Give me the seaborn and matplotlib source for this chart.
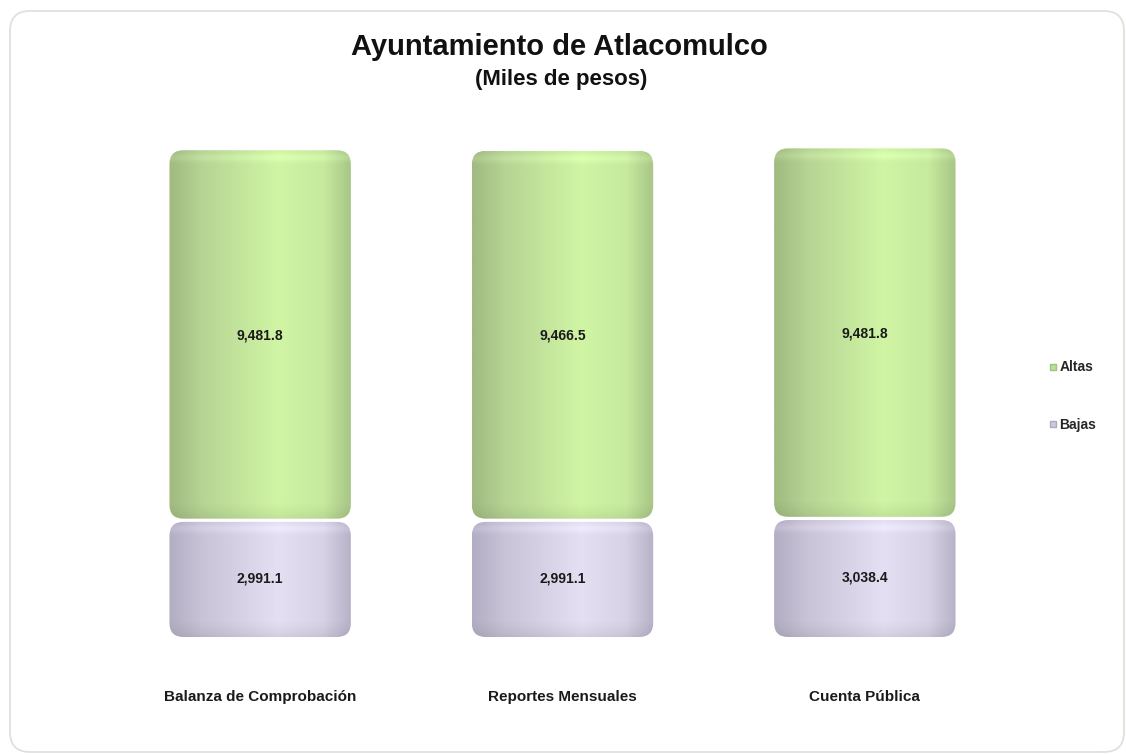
import numpy as np
import pandas as pd
import matplotlib
matplotlib.use("Agg")
import matplotlib.pyplot as plt
import seaborn as sns
from matplotlib.patches import FancyBboxPatch
from matplotlib.lines import Line2D
from matplotlib.transforms import IdentityTransform

# data
categorias = ["Balanza de Comprobación", "Reportes Mensuales", "Cuenta Pública"]
altas = [9481.8, 9466.5, 9481.8]
bajas = [2991.1, 2991.1, 3038.4]
series = ["Altas", "Bajas"]

sns.set_theme(style="white")
plt.rcParams["font.family"] = ["Liberation Sans", "DejaVu Sans"]

fig = plt.figure(figsize=(11.26, 7.55), dpi=100)
ax = fig.add_axes([0.0968, 0.1563, 0.8055, 0.672])
ax.set_facecolor("none")

df = pd.DataFrame({"categoria": categorias, "Altas": altas, "Bajas": bajas})
df["total"] = df["Altas"] + df["Bajas"]

# stacked bars: total first, bajas on top of it, then turned into cylinders
sns.barplot(data=df, x="categoria", y="total", color="#c9ec9c", width=0.6, ax=ax)
sns.barplot(data=df, x="categoria", y="Bajas", color="#d9d3e6", width=0.6, ax=ax)

ymax = 13000
ax.set_xlim(-0.5, 2.5)
ax.set_ylim(0, ymax)

rects = [(p.get_x(), p.get_width()) for p in ax.patches[:3]]
for p in list(ax.patches):
    p.remove()

# pixel scale for rounded corners
fig.canvas.draw()
bb = ax.get_window_extent()
px_x = bb.width / 3.0
px_y = bb.height / ymax

# colour profiles across the cylinder (left -> right)
green_stops = [(0.0, (160, 186, 128)), (0.18, (182, 212, 148)), (0.6, (208, 245, 164)),
               (0.85, (198, 234, 158)), (1.0, (168, 198, 134))]
lila_stops = [(0.0, (178, 173, 194)), (0.18, (200, 195, 215)), (0.6, (228, 223, 242)),
              (0.85, (216, 210, 230)), (1.0, (184, 178, 200))]


def shade(stops, w_px, h_px):
    nx = max(int(w_px), 2)
    ny = max(int(h_px), 2)
    t = np.linspace(0, 1, nx)
    pos = [s[0] for s in stops]
    row = np.stack([np.interp(t, pos, [s[1][k] for s in stops]) for k in range(3)], axis=-1) / 255.0
    img = np.repeat(row[None, :, :], ny, axis=0)
    d = np.arange(ny)  # distance from bottom (origin lower)
    dark = np.clip(d / 16.0, 0, 1) ** 0.7 * 0.08 + 0.92
    top = ny - 1 - d
    light = np.exp(-((top - 7) / 4.0) ** 2) * 0.045
    img = img * dark[:, None, None] + light[:, None, None]
    return np.clip(img, 0, 1)


gap = 1.6 / px_y
rad = 14
for i, (x0, w) in enumerate(rects):
    segs = [(0, bajas[i] - gap, lila_stops), (bajas[i] + gap, bajas[i] + altas[i], green_stops)]
    for y0, y1, stops in segs:
        patch = FancyBboxPatch((x0, y0), w, y1 - y0,
                               boxstyle=f"round,pad=0,rounding_size={rad / px_x}",
                               mutation_aspect=px_x / px_y,
                               facecolor="none", edgecolor="none", zorder=2)
        ax.add_patch(patch)
        img = shade(stops, w * px_x, (y1 - y0) * px_y)
        im = ax.imshow(img, extent=[x0, x0 + w, y0, y1], origin="lower",
                       aspect="auto", zorder=2, interpolation="bilinear")
        im.set_clip_path(patch)

for i in range(len(categorias)):
    ax.text(i, bajas[i] / 2, f"{bajas[i]:,.1f}", ha="center", va="center",
            fontsize=10, fontweight="bold", color="#1a1a1a", zorder=3)
    ax.text(i, bajas[i] + altas[i] / 2, f"{altas[i]:,.1f}", ha="center", va="center",
            fontsize=10, fontweight="bold", color="#1a1a1a", zorder=3)

ax.set_xlim(-0.5, 2.5)
ax.set_ylim(0, ymax)
ax.set_xlabel("")
ax.set_ylabel("")
ax.set_yticks([])
ax.tick_params(axis="x", length=0, pad=38)
for lbl in ax.get_xticklabels():
    lbl.set_fontsize(11)
    lbl.set_fontweight("bold")
    lbl.set_color("#1a1a1a")
sns.despine(ax=ax, left=True, bottom=True)

fig.text(0.497, 0.938, "Ayuntamiento de Atlacomulco", ha="center", va="center",
         fontsize=21, fontweight="bold", color="#111111")
fig.text(0.498, 0.895, "(Miles de pesos)", ha="center", va="center",
         fontsize=16, fontweight="bold", color="#111111")

handles = [Line2D([], [], marker="s", ls="", markersize=5, markerfacecolor="#b8e096",
                  markeredgecolor="#9cc482"),
           Line2D([], [], marker="s", ls="", markersize=5, markerfacecolor="#cfc9de",
                  markeredgecolor="#b0aac2")]
fig.legend(handles, series, loc="center left", bbox_to_anchor=(1036 / 1126, 1 - 396 / 755),
           frameon=False, labelspacing=3.1, handlelength=0.6, handletextpad=0.2,
           prop={"weight": "bold", "size": 10})

frame = FancyBboxPatch((10, 3), 1114, 741, boxstyle="round,pad=0,rounding_size=20",
                       transform=IdentityTransform(), facecolor="none",
                       edgecolor="#e0e0dc", linewidth=1.3, zorder=-1)
fig.add_artist(frame)

fig.savefig("out.png", dpi=100)
